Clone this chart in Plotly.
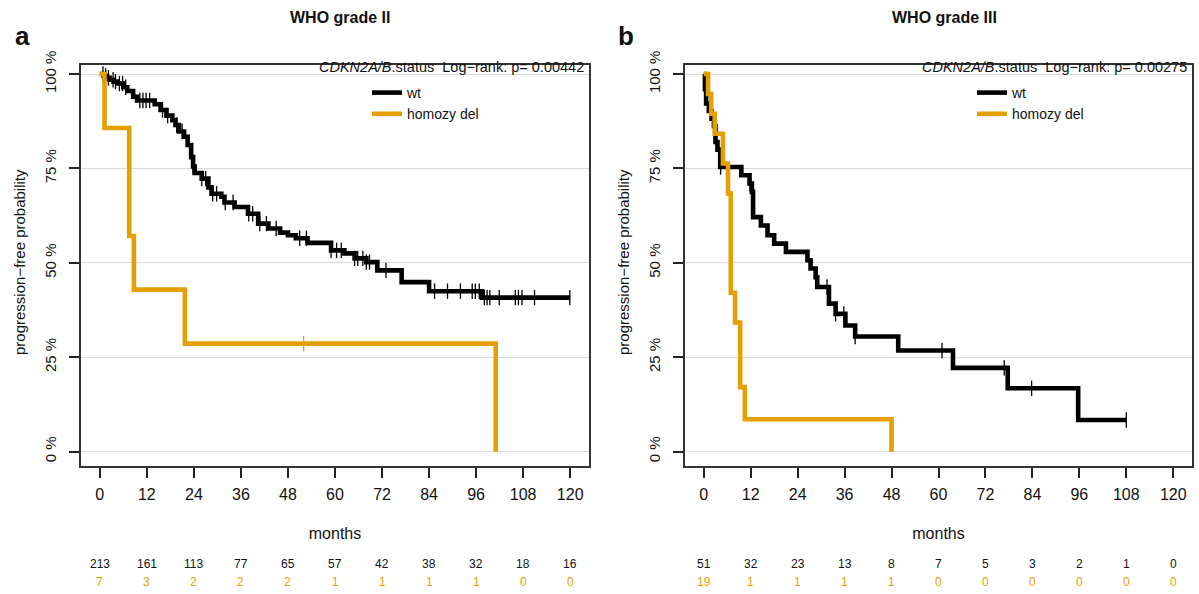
import plotly.graph_objects as go

# ---------------- data ----------------
month_ticks = [0, 12, 24, 36, 48, 60, 72, 84, 96, 108, 120]
pct_ticks = [0, 0.25, 0.5, 0.75, 1.0]
pct_labels = ["0 %", "25 %", "50 %", "75 %", "100 %"]

# WHO grade II
g2_wt_time = [0, 1.0, 1.8, 2.5, 3.5, 4.5, 6.0, 7.0, 8.5, 9.5, 14.0, 15.5, 17.0, 18.5, 19.3, 20.2,
              21.5, 22.4, 23.3, 23.8, 24.2, 26.0, 27.7, 28.5, 31.0, 31.8, 34.4, 37.8, 40.4, 43.0,
              46.0, 48.0, 50.0, 53.0, 59.0, 62.4, 65.0, 68.0, 70.8, 77.0, 84.0, 97.5, 120.0]
g2_wt_surv = [1.0, 0.995, 0.99, 0.985, 0.98, 0.975, 0.965, 0.955, 0.94, 0.93, 0.92, 0.905, 0.89,
              0.878, 0.865, 0.848, 0.834, 0.812, 0.78, 0.755, 0.738, 0.723, 0.70, 0.683, 0.675,
              0.66, 0.648, 0.63, 0.604, 0.591, 0.58, 0.573, 0.565, 0.553, 0.533, 0.525, 0.512,
              0.502, 0.48, 0.449, 0.425, 0.408, 0.408]
g2_wt_cens = [0.8, 1.5, 2.2, 3.4, 4.0, 5.0, 5.8, 6.6, 10.2, 11.0, 11.8, 12.7, 16.0, 17.3, 19.6,
              21.0, 23.8, 26.0, 27.0, 28.8, 29.8, 32.0, 34.0, 38.0, 39.0, 40.8, 42.5, 45.0, 51.0,
              52.7, 59.0, 60.4, 61.6, 65.0, 65.8, 67.1, 68.0, 68.8, 73.0, 85.4, 88.7, 92.0, 95.0,
              95.8, 96.8, 98.1, 98.8, 99.5, 101.9, 106.0, 106.8, 107.7, 110.9, 119.9]
g2_del_time = [0, 1.2, 7.5, 8.7, 21.7, 101.0]
g2_del_surv = [1.0, 0.857, 0.571, 0.429, 0.286, 0.0]
g2_del_cens = [52.0]
g2_risk_wt = [213, 161, 113, 77, 65, 57, 42, 38, 32, 18, 16]
g2_risk_del = [7, 3, 2, 2, 2, 1, 1, 1, 1, 0, 0]
g2_p = "0.00442"

# WHO grade III
g3_wt_time = [0, 0.3, 0.6, 1.3, 2.0, 2.6, 3.0, 3.5, 4.2, 9.6, 11.7, 12.3, 12.6, 14.6, 16.3, 18.0,
              21.0, 26.5, 27.3, 28.6, 29.0, 32.0, 33.7, 36.2, 38.7, 49.7, 63.7, 77.7, 95.7, 108.0]
g3_wt_surv = [1.0, 0.96, 0.922, 0.902, 0.882, 0.862, 0.82, 0.80, 0.754, 0.732, 0.71, 0.688, 0.621,
              0.599, 0.573, 0.551, 0.529, 0.507, 0.485, 0.462, 0.436, 0.392, 0.365, 0.334, 0.305,
              0.268, 0.222, 0.168, 0.084, 0.084]
g3_wt_cens = [0.5, 4.3, 11.8, 31.5, 33.7, 35.8, 38.7, 60.9, 76.8, 83.8, 108.0]
g3_del_time = [0, 1.1, 1.9, 2.8, 4.9, 6.2, 6.9, 8.0, 9.3, 10.5, 48.0]
g3_del_surv = [1.0, 0.947, 0.895, 0.842, 0.763, 0.684, 0.421, 0.342, 0.171, 0.086, 0.0]
g3_del_cens = []
g3_risk_wt = [51, 32, 23, 13, 8, 7, 5, 3, 2, 1, 0]
g3_risk_del = [19, 1, 1, 1, 1, 0, 0, 0, 0, 0, 0]
g3_p = "0.00275"

group_names = ["wt", "homozy del"]
titles = ["WHO grade II", "WHO grade III"]
panel_letters = ["a", "b"]

# ---------------- style ----------------
BLACK = "#000000"
ORANGE = "#E69F00"
FONT = "Liberation Sans, Arial, sans-serif"
W, H = 1199, 594


def step_value(times, surv, t):
    v = surv[0]
    for ti, si in zip(times, surv):
        if ti <= t:
            v = si
    return v


fig = go.Figure()

panels = [
    dict(wt=(g2_wt_time, g2_wt_surv, g2_wt_cens), de=(g2_del_time, g2_del_surv, g2_del_cens),
         rw=g2_risk_wt, rd=g2_risk_del, p=g2_p, xa="x", ya="y", xdom=(81, 589), leg="legend",
         legx=367, title_x=340),
    dict(wt=(g3_wt_time, g3_wt_surv, g3_wt_cens), de=(g3_del_time, g3_del_surv, g3_del_cens),
         rw=g3_risk_wt, rd=g3_risk_del, p=g3_p, xa="x2", ya="y2", xdom=(685, 1192), leg="legend2",
         legx=972, title_x=944),
]

box_top, box_bot = 65, 466
ydom = [1 - box_bot / H, 1 - box_top / H]

for i, pn in enumerate(panels):
    for (tm, sv, cs), col, name in [(pn["wt"], BLACK, group_names[0]), (pn["de"], ORANGE, group_names[1])]:
        fig.add_trace(go.Scatter(x=tm, y=sv, mode="lines", line=dict(color=col, width=4.6, shape="hv"),
                                 name=name, xaxis=pn["xa"], yaxis=pn["ya"], legend=pn["leg"],
                                 showlegend=True, hoverinfo="skip"))
        if cs:
            fig.add_trace(go.Scatter(x=cs, y=[step_value(tm, sv, c) for c in cs], mode="markers",
                                     marker=dict(symbol="line-ns", size=11, color=col,
                                                 line=dict(color=col, width=1.3)),
                                     xaxis=pn["xa"], yaxis=pn["ya"], showlegend=False, hoverinfo="skip"))

layout = dict(
    width=W, height=H, margin=dict(l=0, r=0, t=0, b=0, pad=0, autoexpand=False),
    paper_bgcolor="white", plot_bgcolor="white",
    font=dict(family=FONT, color="#111111"),
)

annotations = []
for i, pn in enumerate(panels):
    sfx = "" if i == 0 else "2"
    x0, x1 = pn["xdom"]
    layout["xaxis" + sfx] = dict(
        domain=[x0 / W, x1 / W], range=[-4.8, 124.8], tickvals=month_ticks,
        ticks="outside", ticklen=10, tickwidth=1.5, tickcolor="#222222",
        showline=True, mirror=True, linecolor="#333333", linewidth=1.5,
        showgrid=False, zeroline=False, anchor="y" + sfx, automargin=False,
        tickfont=dict(size=16, family=FONT, color="#111111"), ticklabelstandoff=3,
        title=dict(text="months", font=dict(size=16, family=FONT, color="#111111"), standoff=26),
    )
    layout["yaxis" + sfx] = dict(
        domain=ydom, range=[-0.038, 1.024], tickvals=pct_ticks, ticktext=pct_labels,
        ticks="outside", ticklen=10, tickwidth=1.5, tickcolor="#222222", tickangle=-90,
        showline=True, mirror=True, linecolor="#333333", linewidth=1.5,
        showgrid=True, gridcolor="#DADADA", gridwidth=1.3, zeroline=False, automargin=False,
        anchor="x" + sfx, tickfont=dict(size=15, family=FONT, color="#111111"), ticklabelstandoff=7,
    )
    layout[pn["leg"]] = dict(
        x=pn["legx"] / W, y=1 - 77 / H, xanchor="left", yanchor="top",
        bgcolor="rgba(0,0,0,0)", font=dict(size=14, family=FONT, color="#111111"),
        itemwidth=30, tracegroupgap=0,
    )
    # title and panel letter
    annotations.append(dict(text="<b>" + titles[i] + "</b>", xref="paper", yref="paper",
                            x=pn["title_x"] / W, y=1 - 18 / H, showarrow=False,
                            font=dict(size=16, family=FONT, color="#111111"), xanchor="center",
                            yanchor="middle"))
    annotations.append(dict(text="<b>" + panel_letters[i] + "</b>", xref="paper", yref="paper",
                            x=(x0 - 59) / W, y=1 - 36 / H, showarrow=False,
                            font=dict(size=26, family=FONT, color="#111111"), xanchor="center",
                            yanchor="middle"))
    # log-rank annotation
    annotations.append(dict(text="<i>CDKN2A/B</i>.status\u00a0\u00a0Log\u2212rank: p=\u00a0" + pn["p"],
                            xref="paper", yref="paper", x=(x1 - 3) / W, y=1 - 67 / H,
                            showarrow=False, xanchor="right", yanchor="middle",
                            font=dict(size=14.5, family=FONT, color="#111111")))
    # y-axis title
    annotations.append(dict(text="progression\u2212free probability", xref="paper", yref="paper",
                            x=(x0 - 62) / W, y=1 - 262 / H, textangle=-90, showarrow=False,
                            xanchor="center", yanchor="middle",
                            font=dict(size=15, family=FONT, color="#111111")))
    # number at risk
    for j, m in enumerate(month_ticks):
        annotations.append(dict(text=str(pn["rw"][j]), xref=pn["xa"], yref="paper", x=m,
                                y=1 - 564 / H, showarrow=False, xanchor="center", yanchor="middle",
                                font=dict(size=12, family=FONT, color="#111111")))
        annotations.append(dict(text=str(pn["rd"][j]), xref=pn["xa"], yref="paper", x=m,
                                y=1 - 582 / H, showarrow=False, xanchor="center", yanchor="middle",
                                font=dict(size=12, family=FONT, color=ORANGE)))

layout["annotations"] = annotations
fig.update_layout(**layout)
fig.write_html("out.html", config={"displayModeBar": False},
               post_script="document.body.style.margin='0';")
